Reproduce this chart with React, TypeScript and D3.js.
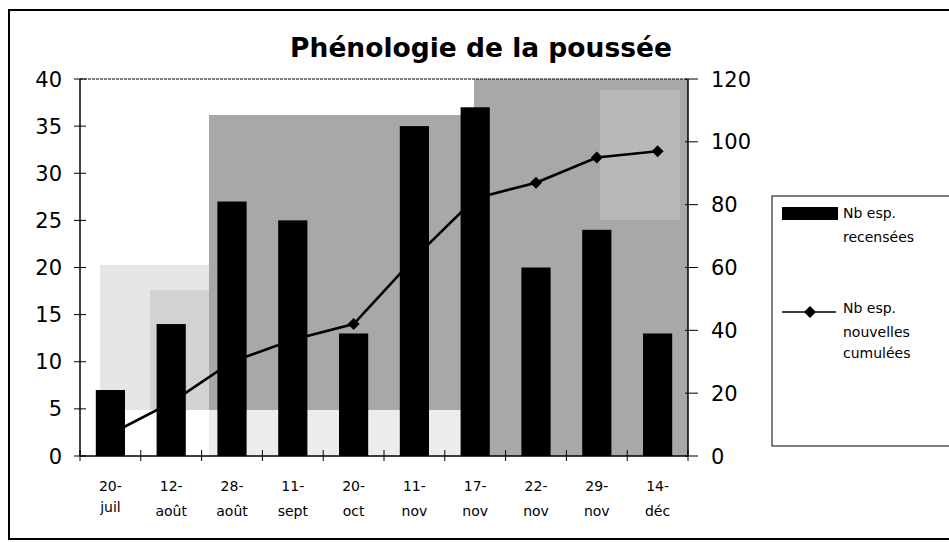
import React from "react";
import * as d3 from "d3";

// valeurs
const jours = ["20-", "12-", "28-", "11-", "20-", "11-", "17-", "22-", "29-", "14-"];
const mois = ["juil", "août", "août", "sept", "oct", "nov", "nov", "nov", "nov", "déc"];
const nbRecensees = [7, 14, 27, 25, 13, 35, 37, 20, 24, 13];
const nbCumulees = [7, 17, 30, 37, 42, 63, 82, 87, 95, 97];
const ticksGauche = [0, 5, 10, 15, 20, 25, 30, 35, 40];
const ticksDroite = [0, 20, 40, 60, 80, 100, 120];

const W = 949;
const H = 542;
const left = 80;
const right = 688;
const top = 79;
const bottom = 456;
const FONT = "'DejaVu Sans', Arial, sans-serif";

export default function App() {
  const x = d3
    .scaleBand<number>()
    .domain(d3.range(jours.length))
    .range([left, right])
    .paddingInner(0.52)
    .paddingOuter(0.26);
  const step = x.step();
  const cx = (i: number) => (x(i) as number) + x.bandwidth() / 2;
  const yL = d3.scaleLinear().domain([0, 40]).range([bottom, top]);
  const yR = d3.scaleLinear().domain([0, 120]).range([bottom, top]);

  const line = d3
    .line<number>()
    .x((_, i) => cx(i))
    .y((d) => yR(d));
  const diamond = d3.symbol(d3.symbolSquare, 72)();

  return (
    <div style={{ margin: 0 }}>
      <svg width={W} height={H} style={{ position: "absolute", left: 0, top: 0 }}>
        <rect width={W} height={H} fill="#fff" />
        {/* cadre */}
        <rect x={9} y={10} width={W + 10} height={529} fill="none" stroke="#000" strokeWidth={2} />

        <text x={481} y={57} textAnchor="middle" fontFamily={FONT} fontWeight="bold" fontSize={26.5}>
          Phénologie de la poussée
        </text>

        {/* fond tramé de la zone de traçage */}
        <g>
          <rect x={100} y={265} width={110} height={145} fill="#e6e6e6" />
          <rect x={150} y={290} width={60} height={120} fill="#d2d2d2" />
          <rect x={209} y={115} width={265} height={295} fill="#a8a8a8" />
          <rect x={209} y={410} width={265} height={46} fill="#ececec" />
          <rect x={474} y={top} width={right - 474} height={bottom - top} fill="#a8a8a8" />
          <rect x={600} y={90} width={80} height={130} fill="#b8b8b8" />
        </g>

        {/* courbe cumulée (derrière les barres) */}
        <path d={line(nbCumulees) ?? ""} fill="none" stroke="#000" strokeWidth={2.6} />
        {nbCumulees.map((v, i) => (
          <path key={i} d={diamond ?? ""} transform={`translate(${cx(i)},${yR(v)}) rotate(45)`} fill="#000" />
        ))}

        {nbRecensees.map((v, i) => (
          <rect
            key={i}
            x={x(i)}
            y={yL(v)}
            width={x.bandwidth()}
            height={bottom - yL(v)}
            fill="#000"
          />
        ))}

        {/* axes */}
        <line x1={left} x2={right} y1={top} y2={top} stroke="#000" strokeWidth={1} strokeDasharray="3 1" />
        <line x1={left} x2={left} y1={top} y2={bottom} stroke="#000" strokeWidth={1.5} />
        <line x1={right} x2={right} y1={top} y2={bottom} stroke="#000" strokeWidth={1.5} />
        <line x1={left} x2={right} y1={bottom} y2={bottom} stroke="#000" strokeWidth={1.5} />

        {ticksGauche.map((t) => (
          <g key={t}>
            <line x1={left - 6} x2={left + 6} y1={yL(t)} y2={yL(t)} stroke="#000" strokeWidth={1} />
            <text x={62} y={yL(t)} dy="0.36em" textAnchor="end" fontFamily={FONT} fontSize={21}>
              {t}
            </text>
          </g>
        ))}
        {ticksDroite.map((t) => (
          <g key={t}>
            <line x1={right - 3} x2={right + 10} y1={yR(t)} y2={yR(t)} stroke="#000" strokeWidth={1} />
            <text x={711} y={yR(t)} dy="0.36em" fontFamily={FONT} fontSize={21}>
              {t}
            </text>
          </g>
        ))}
        {d3.range(jours.length + 1).map((i) => (
          <line
            key={i}
            x1={left + i * step}
            x2={left + i * step}
            y1={bottom - 6}
            y2={bottom + 5}
            stroke="#000"
            strokeWidth={1}
          />
        ))}
        {jours.map((j, i) => (
          <g key={i} fontFamily={FONT} fontSize={14} textAnchor="middle">
            <text x={cx(i)} y={491}>{j}</text>
            <text x={cx(i)} y={i === 0 ? 512 : 516}>{mois[i]}</text>
          </g>
        ))}

        {/* légende */}
        <rect x={772} y={196} width={W} height={250} fill="#fff" stroke="#000" strokeWidth={1} />
        <rect x={782} y={207} width={56} height={13} fill="#000" />
        <g fontFamily={FONT} fontSize={14}>
          <text x={843} y={218}>Nb esp.</text>
          <text x={843} y={242}>recensées</text>
          <text x={843} y={313}>Nb esp.</text>
          <text x={843} y={337}>nouvelles</text>
          <text x={843} y={358}>cumulées</text>
        </g>
        <line x1={782} x2={836} y1={312} y2={312} stroke="#000" strokeWidth={1.5} />
        <path d={diamond ?? ""} transform="translate(810,312) rotate(45)" fill="#000" />
      </svg>
    </div>
  );
}
